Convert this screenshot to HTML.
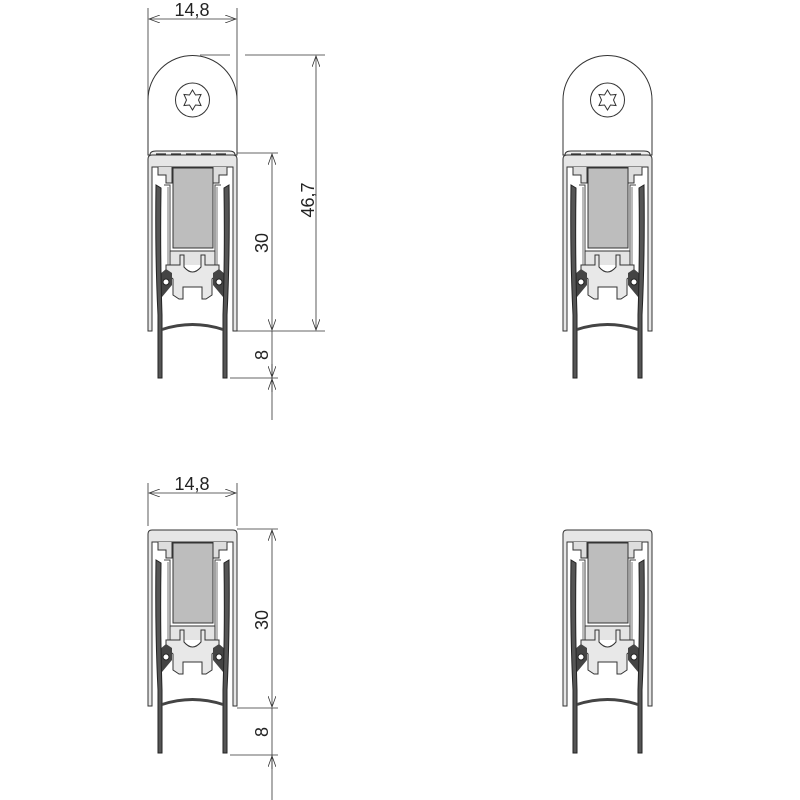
<!DOCTYPE html>
<html><head><meta charset="utf-8"><style>
html,body{margin:0;padding:0;background:#fff;}
svg{display:block;font-family:"Liberation Sans",sans-serif;}
</style></head><body>
<svg width="800" height="800" viewBox="0 0 800 800" xmlns="http://www.w3.org/2000/svg">
<defs>
<g id="cap">
  <path d="M0,0 V-55 A44.5,44.5 0 0 1 89,-55 V0 Z" fill="#fff" stroke="#333" stroke-width="1"/>
  <path d="M2,0 Q2,-4 8,-4 H81 Q87,-4 87,0" fill="#eee" stroke="#333" stroke-width="1"/>
  <path d="M8,-1 H82" stroke="#333" stroke-width="1.2" stroke-dasharray="10,5"/>
  <circle cx="44.5" cy="-55" r="17" fill="#fff" stroke="#333" stroke-width="1"/>
  <path d="M44.5,-65 L47.5,-60 L53,-60.5 L50.5,-55 L53,-49.5 L47.5,-50 L44.5,-45 L41.5,-50 L36,-49.5 L38.5,-55 L36,-60.5 L41.5,-60 Z" fill="#fff" stroke="#333" stroke-width="1"/>
</g>
<g id="body">
  <path d="M0,176 V4 Q0,0 4,0 H85 Q89,0 89,4 V176 H85 V12 H4 V176 Z" fill="#e6e6e6" stroke="#333" stroke-width="1"/>
  <path d="M10,12 V20 H18 V28 H24 V12 M79,12 V20 H71 V28 H65 V12" fill="#ddd" stroke="#333" stroke-width="1"/>
  <path d="M16,30 H22 V110 M73,30 H67 V110" fill="none" stroke="#444" stroke-width="1"/>
  <path d="M20,32 V110 H30 M69,32 V110 H59" fill="none" stroke="#777" stroke-width="1"/>
  <rect x="25" y="13" width="40" height="80" fill="#bdbdbd" stroke="#333" stroke-width="1"/>
  <path d="M22,110 V96 H67 V110" fill="#e4e4e4" stroke="#333" stroke-width="1"/>
  <path d="M18,110 H32 V100 H36 V112 Q44.5,122 53,112 V100 H57 V110 H71 V118 L64,124 V140 L58,144 H54 V132 H35 V144 H31 L25,140 V124 L18,118 Z" fill="#e8e8e8" stroke="#333" stroke-width="1"/>
  <path d="M11,120 L18,114 L24,118 L24,130 L14,142 L11,140 Z" fill="#444"/>
  <path d="M78,120 L71,114 L65,118 L65,130 L75,142 L78,140 Z" fill="#444"/>
  <circle cx="18" cy="127" r="3" fill="#fff" stroke="#222"/>
  <circle cx="71" cy="127" r="3" fill="#fff" stroke="#222"/>
  <path d="M8,30 Q7,100 10,160 V223 H14 V160 Q12,100 13,33 Z" fill="#555" stroke="#222" stroke-width="1"/>
  <path d="M81,30 Q82,100 79,160 V223 H75 V160 Q77,100 76,33 Z" fill="#555" stroke="#222" stroke-width="1"/>
  <path d="M14,176 Q44.5,166 75,176 L75,173 Q44.5,163 14,173 Z" fill="#444"/>
</g>
<marker id="ar" markerWidth="12" markerHeight="8" refX="11" refY="4" orient="auto-start-reverse" markerUnits="userSpaceOnUse">
  <path d="M0,0 L11,4 L0,8" fill="none" stroke="#333" stroke-width="0.8"/>
</marker>
</defs>

<g transform="translate(148,155)"><use href="#cap"/><use href="#body"/></g>
<g transform="translate(563,155)"><use href="#cap"/><use href="#body"/></g>
<g transform="translate(148,530)"><use href="#body"/></g>
<g transform="translate(563,530)"><use href="#body"/></g>

<g stroke="#333" stroke-width="0.8" fill="none">
  <line x1="148" y1="8" x2="148" y2="150"/>
  <line x1="237" y1="8" x2="237" y2="150"/>
  <line x1="149" y1="19" x2="236" y2="19" marker-end="url(#ar)" marker-start="url(#ar)"/>
  <line x1="200" y1="55" x2="230" y2="55"/>
  <line x1="245" y1="55" x2="325" y2="55"/>
  <line x1="316" y1="56" x2="316" y2="330" marker-end="url(#ar)" marker-start="url(#ar)"/>
  <line x1="237" y1="331" x2="325" y2="331"/>
  <line x1="237" y1="153" x2="278" y2="153"/>
  <line x1="272" y1="154" x2="272" y2="330" marker-end="url(#ar)" marker-start="url(#ar)"/>
  <line x1="230" y1="378" x2="278" y2="378"/>
  <line x1="272" y1="331" x2="272" y2="420"/>
  <line x1="272" y1="364" x2="272" y2="377" marker-end="url(#ar)"/>
  <line x1="272" y1="392" x2="272" y2="379" marker-end="url(#ar)"/>

  <line x1="148" y1="483" x2="148" y2="526"/>
  <line x1="237" y1="483" x2="237" y2="526"/>
  <line x1="149" y1="493" x2="236" y2="493" marker-end="url(#ar)" marker-start="url(#ar)"/>
  <line x1="237" y1="529" x2="278" y2="529"/>
  <line x1="272" y1="530" x2="272" y2="707" marker-end="url(#ar)" marker-start="url(#ar)"/>
  <line x1="237" y1="708" x2="278" y2="708"/>
  <line x1="230" y1="755" x2="278" y2="755"/>
  <line x1="272" y1="708" x2="272" y2="800"/>
  <line x1="272" y1="769" x2="272" y2="756" marker-end="url(#ar)"/>
</g>

<g fill="#222" font-size="18">
  <text x="192" y="16" text-anchor="middle">14,8</text>
  <text x="192" y="490" text-anchor="middle">14,8</text>
  <text transform="translate(314,200) rotate(-90)" text-anchor="middle">46,7</text>
  <text transform="translate(268,243) rotate(-90)" text-anchor="middle">30</text>
  <text transform="translate(268,355) rotate(-90)" text-anchor="middle">8</text>
  <text transform="translate(268,620) rotate(-90)" text-anchor="middle">30</text>
  <text transform="translate(268,732) rotate(-90)" text-anchor="middle">8</text>
</g>
</svg>
</body></html>
